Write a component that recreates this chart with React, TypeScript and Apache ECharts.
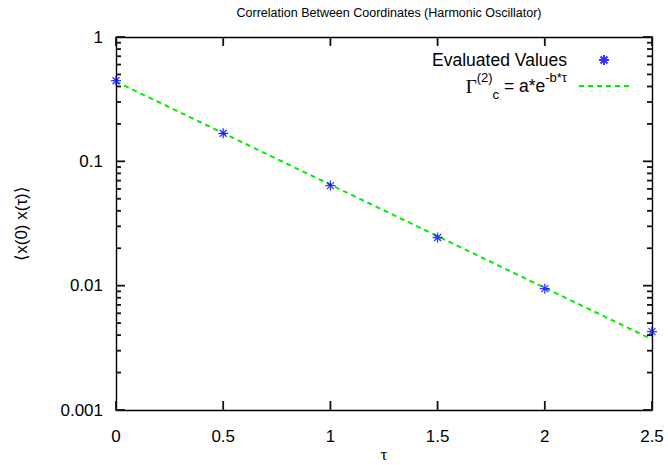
import React, { useEffect, useRef } from "react";
import * as echarts from "echarts";

// ---- data ----
const tau = [0, 0.5, 1, 1.5, 2, 2.5];
const evaluatedValues = [0.445, 0.168, 0.0638, 0.0244, 0.00946, 0.00427];
const fitValues = [0.438, 0.1686, 0.0649, 0.025, 0.0096, 0.0037];
const yTickLabels: Record<string, string> = { "-3": "0.001", "-2": "0.01", "-1": "0.1", "0": "1" };
const yMajor = [0.001, 0.01, 0.1, 1];
const minorMultipliers = [2, 3, 4, 5, 6, 7, 8, 9];
const decades = [0.001, 0.01, 0.1];

const TITLE = "Correlation Between Coordinates (Harmonic Oscillator)";
const SERIES_POINTS = "Evaluated Values";
const SERIES_FIT = "fit";

const SANS = "'Liberation Sans', Arial, Helvetica, sans-serif";
const SERIF = "'Liberation Serif', 'Times New Roman', serif";

const STAR = "path://M5,0 L5,10 M0,5 L10,5 M1.5,1.5 L8.5,8.5 M1.5,8.5 L8.5,1.5";

export default function App() {
  const ref = useRef<HTMLDivElement>(null);
  useEffect(() => {
    if (!ref.current) return;
    const chart = echarts.init(ref.current, undefined, { renderer: "svg" });
    const mkLine = () => ({ show: true, onZero: false, lineStyle: { color: "#000", width: 1.4 } });
    const noTick = { show: false };
    const option: any = {
      animation: false,
      backgroundColor: "#fff",
      title: {
        text: TITLE,
        left: 384,
        top: 1,
        textAlign: "center",
        textStyle: { fontFamily: SANS, fontSize: 12.5, fontWeight: "normal", color: "#000" },
      },
      grid: { left: 116, right: 16, top: 37, bottom: 55, containLabel: false, outerBoundsMode: "none" },
      legend: {
        data: [SERIES_POINTS, { name: SERIES_FIT, itemStyle: { color: "rgba(0,0,0,0)", borderWidth: 0 } }],
        orient: "vertical",
        align: "right",
        right: 33,
        top: 46,
        itemWidth: 50,
        itemHeight: 10,
        itemGap: 2,
        selectedMode: false,
        textStyle: {
          fontFamily: SANS,
          fontSize: 17.5,
          color: "#000",
          padding: [0, 7, 0, 0],
          rich: {
            g: { fontFamily: SERIF, fontSize: 19, color: "#000", lineHeight: 30 },
            m: { fontFamily: SANS, fontSize: 17.5, color: "#000", lineHeight: 30 },
            sup: { fontFamily: SANS, fontSize: 13, color: "#000", verticalAlign: "top", lineHeight: 15 },
            sub: { fontFamily: SANS, fontSize: 13, color: "#000", verticalAlign: "bottom", lineHeight: 15 },
          },
        },
        formatter: (name: string) =>
          name === SERIES_FIT ? "{g|Γ}{sup|(2)}{sub|c}{m| = a*e}{sup|-b*τ}" : name,
      },
      xAxis: [
        {
          type: "value",
          min: 0,
          max: 2.5,
          interval: 0.5,
          position: "bottom",
          axisLine: mkLine(),
          axisTick: noTick,
          splitLine: { show: false },
          axisLabel: { fontFamily: SANS, fontSize: 17, color: "#000", margin: 18 },
          name: "τ",
          nameLocation: "middle",
          nameGap: 36,
          nameMoveOverlap: false,
          nameTextStyle: { fontFamily: SERIF, fontSize: 17, color: "#000", lineHeight: 17 },
        },
        {
          type: "value",
          min: 0,
          max: 2.5,
          interval: 0.5,
          position: "top",
          axisLine: mkLine(),
          axisTick: noTick,
          splitLine: { show: false },
          axisLabel: { show: false },
        },
      ],
      yAxis: [
        {
          type: "log",
          logBase: 10,
          min: 0.001,
          max: 1,
          position: "left",
          axisLine: mkLine(),
          axisTick: noTick,
          splitLine: { show: false },
          axisLabel: {
            fontFamily: SANS,
            fontSize: 17,
            color: "#000",
            margin: 13,
            formatter: (v: number) => yTickLabels[String(Math.round(Math.log10(v)))] ?? String(v),
          },
          name: "⟨x(0) x(τ)⟩",
          nameLocation: "middle",
          nameGap: 86,
          nameRotate: 90,
          nameTextStyle: { fontFamily: SANS, fontSize: 17, color: "#000" },
        },
        {
          type: "log",
          logBase: 10,
          min: 0.001,
          max: 1,
          position: "right",
          axisLine: mkLine(),
          axisTick: noTick,
          splitLine: { show: false },
          axisLabel: { show: false },
        },
      ],
      series: [
        {
          name: SERIES_FIT,
          type: "line",
          xAxisIndex: 0,
          yAxisIndex: 0,
          data: tau.map((t, i) => [t, fitValues[i]]),
          symbol: "none",
          showSymbol: false,
          lineStyle: { color: "#00ee00", width: 2, type: [5, 4] },
          itemStyle: { color: "#00ee00" },
          z: 2,
        },
        {
          name: SERIES_POINTS,
          type: "scatter",
          xAxisIndex: 0,
          yAxisIndex: 0,
          data: tau.map((t, i) => [t, evaluatedValues[i]]),
          symbol: STAR,
          symbolSize: 10,
          itemStyle: { color: "rgba(0,0,0,0)", borderColor: "#0000ff", borderWidth: 1.3 },
          z: 3,
        },
      ],
    };
    chart.setOption(option);

    // tick marks on all four sides of the frame, positioned through the axes' own scales
    const graphics: any[] = [];
    const px = (v: number) => chart.convertToPixel({ xAxisIndex: 0 }, v) as number;
    const py = (v: number) => chart.convertToPixel({ yAxisIndex: 0 }, v) as number;
    const leftX = px(0);
    const rightX = px(2.5);
    const topY = py(1);
    const botY = py(0.001);
    const seg = (x1: number, y1: number, x2: number, y2: number) =>
      graphics.push({
        type: "line",
        shape: { x1, y1, x2, y2 },
        style: { stroke: "#111", lineWidth: 1.8 },
        silent: true,
        z: 10,
      });
    tau.forEach((t) => {
      const x = px(t);
      seg(x, botY, x, botY - 9);
      seg(x, topY, x, topY + 9);
    });
    yMajor.forEach((v) => {
      const y = py(v);
      seg(leftX, y, leftX + 9, y);
      seg(rightX - 9, y, rightX, y);
    });
    decades.forEach((d) => {
      minorMultipliers.forEach((m) => {
        const y = py(d * m);
        seg(leftX, y, leftX + 5, y);
        seg(rightX - 5, y, rightX, y);
      });
    });
    chart.setOption({ graphic: { elements: graphics } });

    return () => chart.dispose();
  }, []);
  return <div ref={ref} style={{ width: 668, height: 465, position: "absolute", left: 0, top: 0 }} />;
}
